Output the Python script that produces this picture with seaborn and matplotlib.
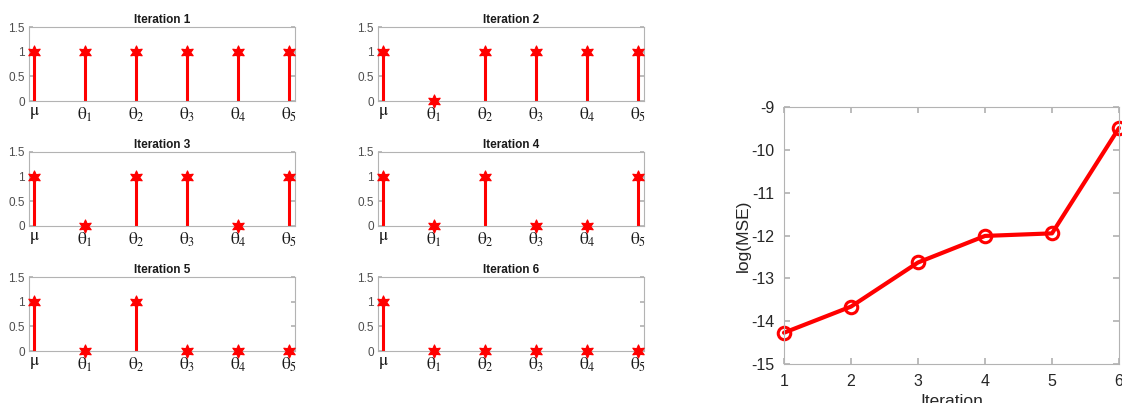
import numpy as np
import pandas as pd
import matplotlib
matplotlib.use("Agg")
import matplotlib.pyplot as plt
import seaborn as sns

# Parameter inclusion (1 = kept, 0 = dropped) at each iteration
params = [r"$\mu$", r"$\theta_1$", r"$\theta_2$", r"$\theta_3$", r"$\theta_4$", r"$\theta_5$"]
iter1 = [1, 1, 1, 1, 1, 1]
iter2 = [1, 0, 1, 1, 1, 1]
iter3 = [1, 0, 1, 1, 0, 1]
iter4 = [1, 0, 1, 0, 0, 1]
iter5 = [1, 0, 1, 0, 0, 0]
iter6 = [1, 0, 0, 0, 0, 0]
selections = [iter1, iter2, iter3, iter4, iter5, iter6]

# Error per iteration
iterations = [1, 2, 3, 4, 5, 6]
log_mse = [-14.27, -13.66, -12.63, -12.01, -11.95, -9.49]

sns.set_theme(style="ticks")
plt.rcParams["font.family"] = ["Liberation Sans", "DejaVu Sans"]
plt.rcParams["mathtext.fontset"] = "stix"
plt.rcParams["mathtext.default"] = "rm"
plt.rcParams["axes.unicode_minus"] = False

RED = "#ff0000"
SPINE = "#b3b3b3"
TICKTXT = "#4d4d4d"

fig = plt.figure(figsize=(11.22, 4.03), dpi=100)

W, H = 1122, 403
col_left = [29, 378]
row_top = [27, 152, 277]
box_w, box_h = 266, 74
star = (6, 1, 0)

for k, sel in enumerate(selections):
    r, c = divmod(k, 2)
    ax = fig.add_axes([col_left[c] / W, 1 - (row_top[r] + box_h) / H, box_w / W, box_h / H])
    pos = np.arange(1, len(params) + 1)
    df = pd.DataFrame({"pos": pos, "val": sel})
    ax.vlines(df["pos"], 0, df["val"], color=RED, lw=2.2, zorder=2)
    sns.scatterplot(data=df, x="pos", y="val", ax=ax, marker=star, s=90,
                    color=RED, edgecolor=RED, linewidth=0.8, zorder=3, clip_on=False)
    ax.set_xlim(0.9, 6.12)
    ax.set_ylim(0, 1.5)
    ax.set_yticks([0, 0.5, 1, 1.5])
    ax.set_yticklabels(["0", "0.5", "1", "1.5"])
    ax.set_xticks(pos)
    ax.set_xticklabels(params, fontsize=12.5, color="#1a1a1a")
    ax.tick_params(axis="x", length=0, pad=3)
    ax.tick_params(axis="y", direction="in", length=3, labelsize=8.5,
                   labelcolor=TICKTXT, color=SPINE, right=True, pad=3)
    for s in ax.spines.values():
        s.set_color(SPINE)
        s.set_linewidth(0.8)
    ax.set_xlabel("")
    ax.set_ylabel("")
    ax.set_title(f"Iteration {k + 1}", fontsize=8.5, fontweight="bold",
                 color="#1a1a1a", pad=3)

# Error curve
axr = fig.add_axes([784 / W, 1 - 364 / H, 335 / W, 257 / H])
dfr = pd.DataFrame({"Iteration": iterations, "log(MSE)": log_mse})
sns.lineplot(data=dfr, x="Iteration", y="log(MSE)", ax=axr, color=RED, lw=3,
             marker="o", markersize=9, markerfacecolor="none",
             markeredgecolor=RED, markeredgewidth=2.2, clip_on=False)
axr.set_xlim(1, 6)
axr.set_ylim(-15, -9)
axr.set_xticks(iterations)
axr.set_yticks(range(-15, -8))
axr.tick_params(direction="in", length=4, labelsize=11.5, labelcolor="#262626",
                color=SPINE, top=True, right=True, pad=7)
for s in axr.spines.values():
    s.set_color(SPINE)
    s.set_linewidth(0.8)
axr.set_xlabel("Iteration", fontsize=12.5, color="#262626", labelpad=4)
axr.set_ylabel("log(MSE)", fontsize=12.5, color="#262626", labelpad=0)

fig.savefig("out.png", dpi=100)
